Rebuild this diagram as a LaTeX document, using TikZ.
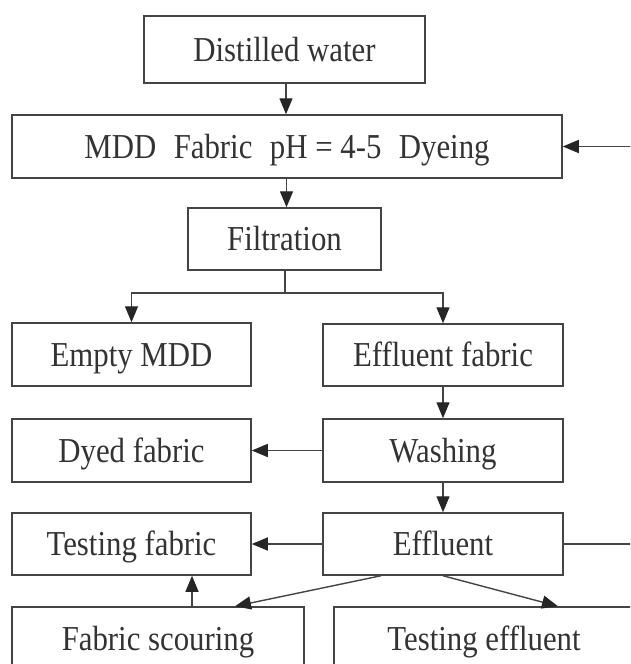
\documentclass[tikz,border=0pt]{standalone}
\usepackage{fontspec}
\setmainfont{Liberation Serif}[FakeStretch=0.88]
\usetikzlibrary{arrows.meta}
\definecolor{ln}{HTML}{444444}
\definecolor{tx}{HTML}{333333}
\begin{document}
\begin{tikzpicture}[x=1pt,y=-1pt,
  box/.style={draw=ln,line width=1.5pt,rectangle,inner sep=0pt,
    text height=23pt,text depth=0pt,text=tx,
    font=\fontsize{35}{40}\selectfont},
  arr/.style={draw=ln,line width=1.4pt,-{Triangle[length=16pt,width=13pt,color=black!85,fill=black!85]}},
  ln/.style={draw=ln,line width=1.4pt}]
\clip (0,0) rectangle (630,664);
\fill[white] (0,0) rectangle (630,664);
\node[box,minimum width=281,minimum height=67] (dw) at (284.5,49.5) {Distilled water};
\node[box,minimum width=550,minimum height=63] (mdd) at (287,146.5) {MDD\hspace{0.5em}Fabric\hspace{0.5em}pH = 4-5\hspace{0.5em}Dyeing};
\node[box,minimum width=193,minimum height=62] (filt) at (284.5,239) {Filtration};
\node[box,minimum width=239,minimum height=63] (empty) at (131.5,354.5) {Empty MDD};
\node[box,minimum width=240,minimum height=62] (efab) at (443,355) {Effluent fabric};
\node[box,minimum width=239,minimum height=63] (dyed) at (131.5,450.5) {Dyed fabric};
\node[box,minimum width=240,minimum height=63] (wash) at (443,450.5) {Washing};
\node[box,minimum width=239,minimum height=62] (tfab) at (131.5,544) {Testing fabric};
\node[box,minimum width=240,minimum height=62] (eff) at (443,544) {Effluent};
\node[box,minimum width=292,minimum height=63] (scour) at (158,638.5) {Fabric scouring};
\node[box,minimum width=300,minimum height=63] (teff) at (484,638.5) {Testing effluent};
\coordinate (rin) at (640,146.5);
\coordinate (rout) at (640,544);
\coordinate (split) at (285,293);
\draw[arr] ([xshift=1.5]dw.south) -- ([xshift=1.5]dw.south |- mdd.north);
\draw[arr] (mdd.south -| filt.north) ++(2,0) -- ([xshift=2]filt.north);
\draw[arr] (rin) -- (mdd.east);
\draw[ln] (filt.south -| split) -- (split);
\draw[arr] (split) -| (empty.north);
\draw[arr] (split) -| (efab.north);
\draw[arr] (efab.south) -- (wash.north);
\draw[arr] (wash.west) -- (dyed.east);
\draw[arr] (wash.south) -- (eff.north);
\draw[arr] (eff.west) -- (tfab.east);
\draw[ln] (eff.east) -- (rout);
\draw[arr] ([xshift=34]scour.north) -- ([xshift=34]scour.north |- tfab.south);
\draw[arr] ([xshift=-62]eff.south) -- ([xshift=77]scour.north);
\draw[arr] (eff.south) -- ([xshift=74]teff.north);
\end{tikzpicture}
\end{document}
